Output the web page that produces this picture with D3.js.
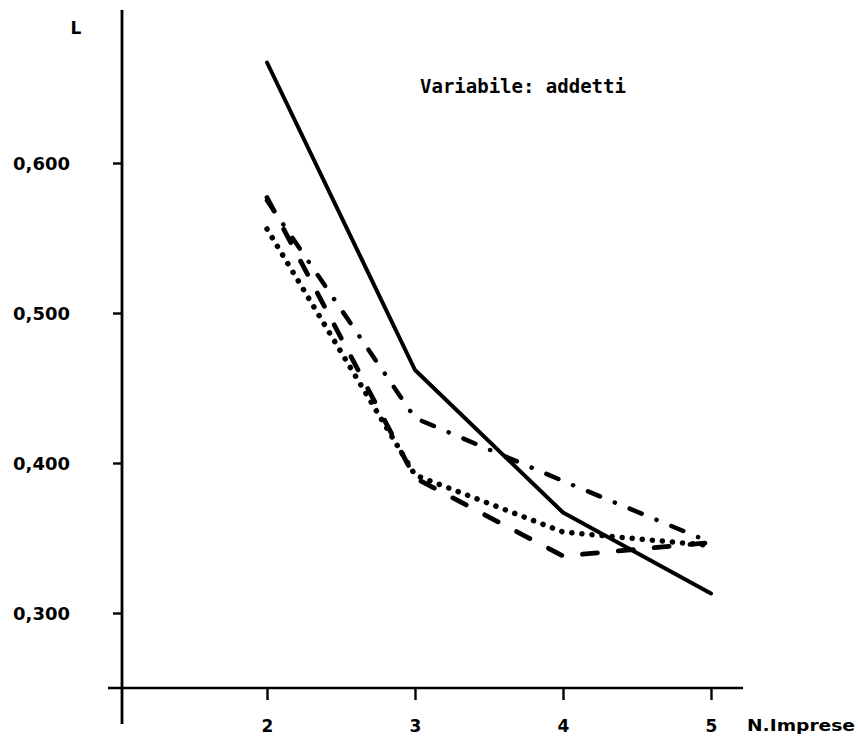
<!DOCTYPE html>
<html>
<head>
<meta charset="utf-8">
<script src="https://cdn.jsdelivr.net/npm/d3@7"></script>
<style>
  html, body { margin: 0; padding: 0; background: #fff; }
  svg { display: block; }
</style>
</head>
<body>
<svg id="chart" width="858" height="741"></svg>
<script>
// ---- data ----
const nImprese = [2, 3, 4, 5];
const yTicks = [0.3, 0.4, 0.5, 0.6];
const yTickLabels = ["0,300", "0,400", "0,500", "0,600"];
const serieContinua = [0.667, 0.462, 0.367, 0.313];
const serieTrattoPunto = [0.575, 0.430, 0.388, 0.347];
const serieTratteggio = [0.577, 0.390, 0.338, 0.347];
const seriePunti = [0.556, 0.392, 0.354, 0.345];
const titolo = "Variabile: addetti";
const xTitolo = "N.Imprese";
const yTitolo = "L";

// ---- scales ----
const svg = d3.select("#chart");
const x = d3.scaleLinear().domain([2, 5]).range([267, 711]);
const y = d3.scaleLinear().domain([0.25, 0.7]).range([688, 13]);
const axisX = 122;

// axes lines
svg.append("line").attr("x1", axisX).attr("x2", axisX).attr("y1", 10).attr("y2", 724)
  .attr("stroke", "#000").attr("stroke-width", 2.8);
svg.append("line").attr("x1", 108).attr("x2", 743).attr("y1", y(0.25)).attr("y2", y(0.25))
  .attr("stroke", "#000").attr("stroke-width", 2.6);

// y axis ticks & labels
const gy = svg.append("g").attr("transform", `translate(${axisX},0)`)
  .call(d3.axisLeft(y).tickValues(yTicks).tickSize(9).tickPadding(43)
    .tickFormat((d, i) => yTickLabels[i]));
gy.select(".domain").remove();
gy.selectAll(".tick line").attr("stroke", "#000").attr("stroke-width", 2.4);
gy.selectAll(".tick text").attr("fill", "#000")
  .style("font-family", "'DejaVu Sans', sans-serif").style("font-weight", "bold")
  .style("font-size", "18px").attr("dy", "0.38em");

// x axis ticks & labels
const gx = svg.append("g").attr("transform", `translate(0,${y(0.25)})`)
  .call(d3.axisBottom(x).tickValues(nImprese).tickSize(12).tickPadding(20).tickFormat(d3.format("d")));
gx.select(".domain").remove();
gx.selectAll(".tick line").attr("stroke", "#000").attr("stroke-width", 2.4);
gx.selectAll(".tick text").attr("fill", "#000")
  .style("font-family", "'DejaVu Sans', sans-serif").style("font-weight", "bold")
  .style("font-size", "17px");

// lines
const line = d3.line().x((d, i) => x(nImprese[i])).y(d => y(d));
function drawSeries(data, width, dash, cap) {
  svg.append("path").datum(data).attr("d", line)
    .attr("fill", "none").attr("stroke", "#000").attr("stroke-width", width)
    .attr("stroke-linecap", cap).attr("stroke-linejoin", "round")
    .attr("stroke-dasharray", dash);
}
drawSeries(serieContinua, 4, null, "round");
drawSeries(serieTrattoPunto, 4.5, "13,16,0.1,16", "round");
drawSeries(serieTratteggio, 4.8, "15,21", "round");
drawSeries(seriePunti, 5.5, "0.1,10", "round");

// texts
svg.append("text").attr("x", 420).attr("y", 93).text(titolo)
  .style("font-family", "'DejaVu Sans Mono', monospace").style("font-weight", "bold")
  .style("font-size", "19px").attr("fill", "#000");
svg.append("text").attr("x", 747).attr("y", 731).text(xTitolo)
  .attr("textLength", 108).attr("lengthAdjust", "spacingAndGlyphs")
  .style("font-family", "'DejaVu Sans', sans-serif").style("font-weight", "bold")
  .style("font-size", "16px").attr("fill", "#000");
svg.append("text").attr("x", 76).attr("y", 34).attr("text-anchor", "middle").text(yTitolo)
  .style("font-family", "'DejaVu Sans', sans-serif").style("font-weight", "bold")
  .style("font-size", "17px").attr("fill", "#000");
</script>
</body>
</html>
